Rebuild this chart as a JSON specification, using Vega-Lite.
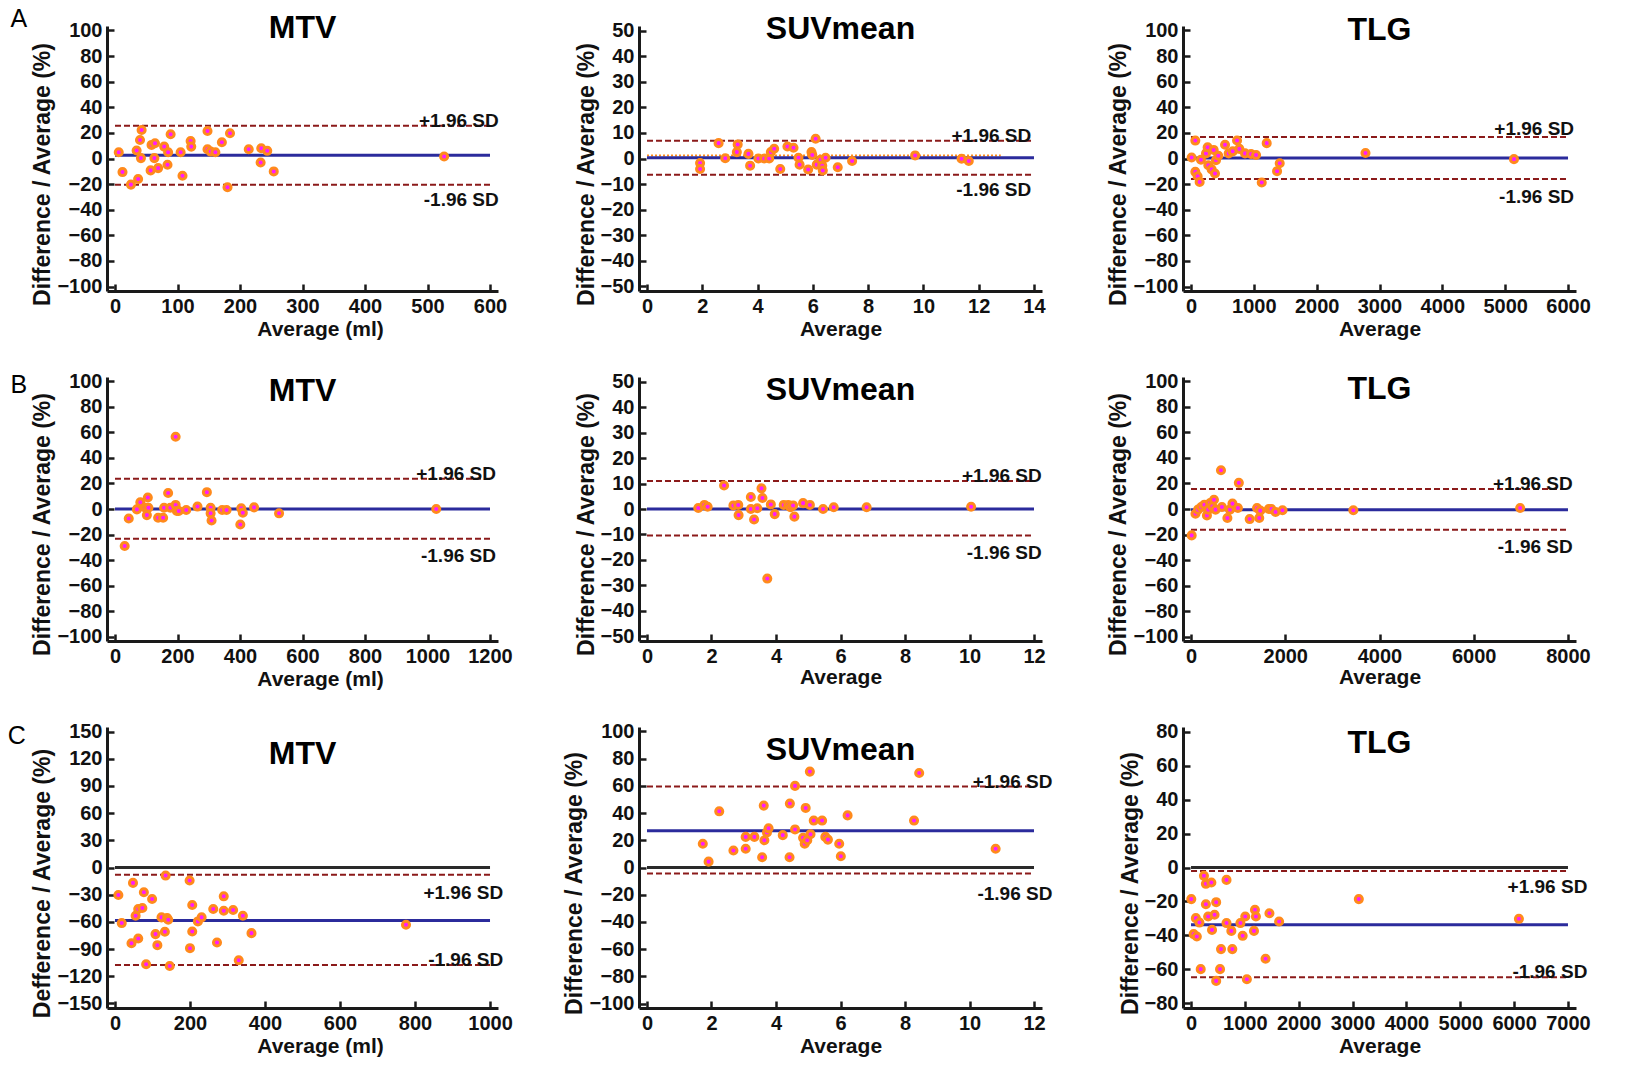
{
"$schema": "https://vega.github.io/schema/vega-lite/v6.json",
"background": "white",
"padding": {"left": 7, "top": 7, "right": 5, "bottom": 5},
"config": {
 "font": "Liberation Sans",
 "numberFormat": "d",
 "view": {"stroke": null},
 "title": {"font": "Liberation Sans", "fontSize": 32, "fontWeight": "bold", "color": "#000000", "anchor": "middle", "frame": "group", "baseline": "alphabetic"},
 "axis": {"grid": false, "domainColor": "#1a1a1a", "domainWidth": 3, "tickColor": "#1a1a1a", "tickWidth": 2.5, "tickSize": -7, "labelPadding": 12, "labelFont": "Liberation Sans", "labelFontSize": 20, "labelFontWeight": "bold", "labelColor": "#111111", "titleFont": "Liberation Sans", "titleFontSize": 21, "titleFontWeight": "bold", "titleColor": "#111111", "labelOverlap": false, "labelFlush": false},
 "axisY": {"titlePadding": 2, "titleFontSize": 23},
 "axisX": {"titlePadding": 2}
},
"datasets": {
 "lines": [
  {"p":"A1","kind":"sd","x":0,"x2":600,"y":25.5},{"p":"A1","kind":"sd","x":0,"x2":600,"y":-20.5},{"p":"A1","kind":"mean","x":0,"x2":600,"y":2.5},
  {"p":"A2","kind":"sd","x":0,"x2":14,"y":6.9},{"p":"A2","kind":"sd","x":0,"x2":14,"y":-6.3},{"p":"A2","kind":"mean","x":0,"x2":14,"y":0.3},{"p":"A2","kind":"fit","x":0,"x2":12.8,"y":1.2},
  {"p":"A3","kind":"sd","x":0,"x2":6000,"y":16.8},{"p":"A3","kind":"sd","x":0,"x2":6000,"y":-16},{"p":"A3","kind":"mean","x":0,"x2":6000,"y":0.3},
  {"p":"B1","kind":"sd","x":0,"x2":1200,"y":23.8},{"p":"B1","kind":"sd","x":0,"x2":1200,"y":-23.3},{"p":"B1","kind":"mean","x":0,"x2":1200,"y":0},
  {"p":"B2","kind":"sd","x":0,"x2":12,"y":11},{"p":"B2","kind":"sd","x":0,"x2":12,"y":-10.4},{"p":"B2","kind":"mean","x":0,"x2":12,"y":0},
  {"p":"B3","kind":"sd","x":0,"x2":8000,"y":15.7},{"p":"B3","kind":"sd","x":0,"x2":8000,"y":-16.3},{"p":"B3","kind":"mean","x":0,"x2":8000,"y":-0.5},
  {"p":"C1","kind":"zero","x":0,"x2":1000,"y":0},{"p":"C1","kind":"sd","x":0,"x2":1000,"y":-8},{"p":"C1","kind":"sd","x":0,"x2":1000,"y":-107.5},{"p":"C1","kind":"mean","x":0,"x2":1000,"y":-58.5},
  {"p":"C2","kind":"zero","x":0,"x2":12,"y":0},{"p":"C2","kind":"sd","x":0,"x2":12,"y":59.5},{"p":"C2","kind":"sd","x":0,"x2":12,"y":-4.5},{"p":"C2","kind":"mean","x":0,"x2":12,"y":27},
  {"p":"C3","kind":"zero","x":0,"x2":7000,"y":0},{"p":"C3","kind":"sd","x":0,"x2":7000,"y":-2},{"p":"C3","kind":"sd","x":0,"x2":7000,"y":-64.5},{"p":"C3","kind":"mean","x":0,"x2":7000,"y":-33.7}
 ],
 "labels": [
  {"p":"A1","text":"+1.96 SD","x":614,"y":25.5,"pos":"above"},{"p":"A1","text":"-1.96 SD","x":614,"y":-20.5,"pos":"below"},
  {"p":"A2","text":"+1.96 SD","x":13.9,"y":6.9,"pos":"above"},{"p":"A2","text":"-1.96 SD","x":13.9,"y":-6.3,"pos":"below"},
  {"p":"A3","text":"+1.96 SD","x":6096,"y":16.8,"pos":"above"},{"p":"A3","text":"-1.96 SD","x":6096,"y":-16,"pos":"below"},
  {"p":"B1","text":"+1.96 SD","x":1219,"y":23.8,"pos":"above"},{"p":"B1","text":"-1.96 SD","x":1219,"y":-23.3,"pos":"below"},
  {"p":"B2","text":"+1.96 SD","x":12.24,"y":11,"pos":"above"},{"p":"B2","text":"-1.96 SD","x":12.24,"y":-10.4,"pos":"below"},
  {"p":"B3","text":"+1.96 SD","x":8101,"y":15.7,"pos":"above"},{"p":"B3","text":"-1.96 SD","x":8101,"y":-16.3,"pos":"below"},
  {"p":"C1","text":"+1.96 SD","x":1035,"y":-8,"pos":"below"},{"p":"C1","text":"-1.96 SD","x":1035,"y":-107.5,"pos":"above"},
  {"p":"C2","text":"+1.96 SD","x":12.57,"y":59.5,"pos":"above"},{"p":"C2","text":"-1.96 SD","x":12.57,"y":-4.5,"pos":"below"},
  {"p":"C3","text":"+1.96 SD","x":7360,"y":-2,"pos":"below"},{"p":"C3","text":"-1.96 SD","x":7360,"y":-64.5,"pos":"above"}
 ],
 "pts": [
  {"p":"A1","x":6,"y":4.9},{"p":"A1","x":12,"y":-10.6},{"p":"A1","x":25.5,"y":-20.4},{"p":"A1","x":34.6,"y":6.2},{"p":"A1","x":37,"y":-16},{"p":"A1","x":40,"y":14.5},{"p":"A1","x":42.6,"y":22.3},{"p":"A1","x":41.5,"y":0.3},{"p":"A1","x":58.5,"y":10.6},{"p":"A1","x":64,"y":11.9},{"p":"A1","x":63,"y":0.3},{"p":"A1","x":57,"y":-9.3},{"p":"A1","x":69,"y":-7.5},{"p":"A1","x":78.7,"y":9.3},{"p":"A1","x":85,"y":4.9},{"p":"A1","x":84,"y":-4.9},{"p":"A1","x":89,"y":18.9},{"p":"A1","x":105,"y":4.9},{"p":"A1","x":108,"y":-13.5},{"p":"A1","x":121,"y":13.7},{"p":"A1","x":122,"y":9.3},{"p":"A1","x":148,"y":21.5},{"p":"A1","x":148,"y":7.2},{"p":"A1","x":153,"y":5.4},{"p":"A1","x":160.6,"y":4.9},{"p":"A1","x":171,"y":12.7},{"p":"A1","x":180,"y":-22.5},{"p":"A1","x":184,"y":19.7},{"p":"A1","x":214,"y":7.2},{"p":"A1","x":234,"y":8.0},{"p":"A1","x":233,"y":-3.1},{"p":"A1","x":243.6,"y":6.0},{"p":"A1","x":254,"y":-10.1},{"p":"A1","x":526.6,"y":1.6},
  {"p":"A2","x":1.92,"y":-1.8},{"p":"A2","x":1.92,"y":-4.1},{"p":"A2","x":2.59,"y":6.0},{"p":"A2","x":2.83,"y":0.1},{"p":"A2","x":3.28,"y":5.5},{"p":"A2","x":3.25,"y":2.5},{"p":"A2","x":3.67,"y":1.8},{"p":"A2","x":3.73,"y":-2.8},{"p":"A2","x":4.03,"y":0},{"p":"A2","x":4.24,"y":0},{"p":"A2","x":4.42,"y":0},{"p":"A2","x":4.48,"y":2.5},{"p":"A2","x":4.6,"y":3.8},{"p":"A2","x":4.82,"y":-4.1},{"p":"A2","x":5.08,"y":4.7},{"p":"A2","x":5.3,"y":4.2},{"p":"A2","x":5.48,"y":0.3},{"p":"A2","x":5.52,"y":-2.4},{"p":"A2","x":5.83,"y":-4.3},{"p":"A2","x":5.95,"y":2.5},{"p":"A2","x":5.98,"y":1.4},{"p":"A2","x":6.1,"y":7.7},{"p":"A2","x":6.14,"y":-2.4},{"p":"A2","x":6.28,"y":-0.5},{"p":"A2","x":6.34,"y":-2.8},{"p":"A2","x":6.36,"y":-4.7},{"p":"A2","x":6.46,"y":0.3},{"p":"A2","x":6.9,"y":-3.4},{"p":"A2","x":7.42,"y":-1.0},{"p":"A2","x":9.7,"y":1.2},{"p":"A2","x":11.38,"y":-0.1},{"p":"A2","x":11.64,"y":-1.0},
  {"p":"A3","x":10,"y":0.8},{"p":"A3","x":69,"y":14},{"p":"A3","x":69,"y":-10.4},{"p":"A3","x":106,"y":-13.9},{"p":"A3","x":138,"y":-18.4},{"p":"A3","x":159,"y":-1},{"p":"A3","x":239,"y":4},{"p":"A3","x":265,"y":8.8},{"p":"A3","x":276,"y":-5.3},{"p":"A3","x":329,"y":-8.5},{"p":"A3","x":361,"y":6.7},{"p":"A3","x":382,"y":-11.7},{"p":"A3","x":398,"y":-1.3},{"p":"A3","x":435,"y":2.1},{"p":"A3","x":542,"y":10.7},{"p":"A3","x":600,"y":4},{"p":"A3","x":664,"y":5.6},{"p":"A3","x":733,"y":14.1},{"p":"A3","x":770,"y":7.5},{"p":"A3","x":860,"y":4},{"p":"A3","x":956,"y":3.5},{"p":"A3","x":1036,"y":2.7},{"p":"A3","x":1126,"y":-18.7},{"p":"A3","x":1205,"y":12},{"p":"A3","x":1370,"y":-9.9},{"p":"A3","x":1412,"y":-3.7},{"p":"A3","x":2777,"y":4.3},{"p":"A3","x":5140,"y":-0.5},
  {"p":"B1","x":31,"y":-29},{"p":"B1","x":44,"y":-7.4},{"p":"B1","x":70,"y":-0.3},{"p":"B1","x":81,"y":5.3},{"p":"B1","x":97,"y":1},{"p":"B1","x":105,"y":9},{"p":"B1","x":107,"y":1},{"p":"B1","x":102,"y":-4.8},{"p":"B1","x":138,"y":-6.9},{"p":"B1","x":154,"y":-6.9},{"p":"B1","x":157,"y":1},{"p":"B1","x":170,"y":12.5},{"p":"B1","x":177,"y":1},{"p":"B1","x":194,"y":56.7},{"p":"B1","x":194,"y":3.2},{"p":"B1","x":198,"y":-1.6},{"p":"B1","x":204,"y":-1.6},{"p":"B1","x":228,"y":-0.8},{"p":"B1","x":264,"y":1.9},{"p":"B1","x":294,"y":13.2},{"p":"B1","x":306,"y":1},{"p":"B1","x":306,"y":-3.4},{"p":"B1","x":309,"y":-9},{"p":"B1","x":343,"y":-0.8},{"p":"B1","x":357,"y":-0.8},{"p":"B1","x":401,"y":-12.2},{"p":"B1","x":404,"y":0.5},{"p":"B1","x":409,"y":-2.9},{"p":"B1","x":445,"y":1.3},{"p":"B1","x":525,"y":-3.4},{"p":"B1","x":1028,"y":0},
  {"p":"B2","x":1.59,"y":0.4},{"p":"B2","x":1.78,"y":1.6},{"p":"B2","x":1.88,"y":0.9},{"p":"B2","x":2.39,"y":9.2},{"p":"B2","x":2.68,"y":1.4},{"p":"B2","x":2.83,"y":1.6},{"p":"B2","x":2.84,"y":-2.4},{"p":"B2","x":3.22,"y":4.7},{"p":"B2","x":3.22,"y":0},{"p":"B2","x":3.32,"y":-4.1},{"p":"B2","x":3.42,"y":0.3},{"p":"B2","x":3.55,"y":8.1},{"p":"B2","x":3.58,"y":4.3},{"p":"B2","x":3.73,"y":-27.3},{"p":"B2","x":3.84,"y":1.8},{"p":"B2","x":3.96,"y":-2},{"p":"B2","x":4.24,"y":1.6},{"p":"B2","x":4.38,"y":1.6},{"p":"B2","x":4.45,"y":0.7},{"p":"B2","x":4.53,"y":1.4},{"p":"B2","x":4.57,"y":-3},{"p":"B2","x":4.84,"y":2.3},{"p":"B2","x":5.05,"y":1.6},{"p":"B2","x":5.46,"y":0},{"p":"B2","x":5.79,"y":0.7},{"p":"B2","x":6.81,"y":0.7},{"p":"B2","x":10.05,"y":0.9},
  {"p":"B3","x":14,"y":-20.7},{"p":"B3","x":95,"y":-3.7},{"p":"B3","x":149,"y":-0.5},{"p":"B3","x":217,"y":1.6},{"p":"B3","x":284,"y":3.4},{"p":"B3","x":338,"y":-5},{"p":"B3","x":365,"y":-0.5},{"p":"B3","x":406,"y":4.7},{"p":"B3","x":453,"y":2.1},{"p":"B3","x":487,"y":7.3},{"p":"B3","x":521,"y":-0.5},{"p":"B3","x":636,"y":30.4},{"p":"B3","x":656,"y":1.6},{"p":"B3","x":772,"y":-7.1},{"p":"B3","x":826,"y":-0.5},{"p":"B3","x":880,"y":4.2},{"p":"B3","x":995,"y":0.8},{"p":"B3","x":1015,"y":20.5},{"p":"B3","x":1245,"y":-7.9},{"p":"B3","x":1401,"y":0.8},{"p":"B3","x":1448,"y":-7.1},{"p":"B3","x":1469,"y":-1.3},{"p":"B3","x":1651,"y":0},{"p":"B3","x":1706,"y":0},{"p":"B3","x":1794,"y":-2.4},{"p":"B3","x":1942,"y":-1},{"p":"B3","x":3445,"y":-1},{"p":"B3","x":6985,"y":0.8},
  {"p":"C1","x":9,"y":-30.3},{"p":"C1","x":18,"y":-61.3},{"p":"C1","x":48,"y":-17},{"p":"C1","x":44,"y":-83.5},{"p":"C1","x":55,"y":-53.2},{"p":"C1","x":62,"y":-45.8},{"p":"C1","x":73,"y":-44.7},{"p":"C1","x":62,"y":-78.3},{"p":"C1","x":77,"y":-27.3},{"p":"C1","x":83,"y":-106.8},{"p":"C1","x":99,"y":-34.7},{"p":"C1","x":108,"y":-73.5},{"p":"C1","x":113,"y":-85.7},{"p":"C1","x":124,"y":-55},{"p":"C1","x":133,"y":-70.9},{"p":"C1","x":135,"y":-8.9},{"p":"C1","x":139,"y":-55.8},{"p":"C1","x":142,"y":-57.6},{"p":"C1","x":146,"y":-108.6},{"p":"C1","x":199,"y":-14.4},{"p":"C1","x":200,"y":-89},{"p":"C1","x":206,"y":-41.4},{"p":"C1","x":206,"y":-70.6},{"p":"C1","x":221,"y":-59.5},{"p":"C1","x":231,"y":-55},{"p":"C1","x":262,"y":-45.8},{"p":"C1","x":272,"y":-82.7},{"p":"C1","x":290,"y":-31.8},{"p":"C1","x":290,"y":-47.7},{"p":"C1","x":315,"y":-46.9},{"p":"C1","x":330,"y":-102.3},{"p":"C1","x":341,"y":-53.2},{"p":"C1","x":364,"y":-72.4},{"p":"C1","x":776,"y":-63.2},
  {"p":"C2","x":1.73,"y":17.5},{"p":"C2","x":1.91,"y":4.3},{"p":"C2","x":2.24,"y":41.3},{"p":"C2","x":2.68,"y":12.5},{"p":"C2","x":3.06,"y":22.5},{"p":"C2","x":3.06,"y":13.8},{"p":"C2","x":3.33,"y":22.5},{"p":"C2","x":3.57,"y":7.5},{"p":"C2","x":3.62,"y":45.5},{"p":"C2","x":3.64,"y":20},{"p":"C2","x":3.72,"y":25.8},{"p":"C2","x":3.77,"y":28.8},{"p":"C2","x":4.21,"y":23.8},{"p":"C2","x":4.42,"y":7.5},{"p":"C2","x":4.43,"y":47},{"p":"C2","x":4.59,"y":60},{"p":"C2","x":4.59,"y":28},{"p":"C2","x":4.84,"y":21.8},{"p":"C2","x":4.89,"y":17.5},{"p":"C2","x":4.92,"y":43.8},{"p":"C2","x":4.97,"y":20},{"p":"C2","x":5.05,"y":70.5},{"p":"C2","x":5.07,"y":24.5},{"p":"C2","x":5.17,"y":34.5},{"p":"C2","x":5.43,"y":34.5},{"p":"C2","x":5.53,"y":22.5},{"p":"C2","x":5.61,"y":20.5},{"p":"C2","x":5.96,"y":17.5},{"p":"C2","x":6.01,"y":8.3},{"p":"C2","x":6.22,"y":38.3},{"p":"C2","x":8.28,"y":34.5},{"p":"C2","x":8.44,"y":69.5},{"p":"C2","x":10.81,"y":13.8},
  {"p":"C3","x":5,"y":-18.6},{"p":"C3","x":48,"y":-39.2},{"p":"C3","x":108,"y":-40.6},{"p":"C3","x":90,"y":-29.8},{"p":"C3","x":156,"y":-32.4},{"p":"C3","x":180,"y":-59.8},{"p":"C3","x":240,"y":-4.9},{"p":"C3","x":276,"y":-9.6},{"p":"C3","x":276,"y":-21.6},{"p":"C3","x":318,"y":-28.8},{"p":"C3","x":378,"y":-8.8},{"p":"C3","x":390,"y":-36.7},{"p":"C3","x":437,"y":-27.8},{"p":"C3","x":467,"y":-20.4},{"p":"C3","x":467,"y":-66.7},{"p":"C3","x":539,"y":-59.8},{"p":"C3","x":557,"y":-48},{"p":"C3","x":659,"y":-7.3},{"p":"C3","x":659,"y":-32.7},{"p":"C3","x":749,"y":-37.3},{"p":"C3","x":767,"y":-48},{"p":"C3","x":917,"y":-32.7},{"p":"C3","x":959,"y":-40.2},{"p":"C3","x":1007,"y":-28.8},{"p":"C3","x":1037,"y":-65.7},{"p":"C3","x":1169,"y":-37.3},{"p":"C3","x":1187,"y":-24.9},{"p":"C3","x":1205,"y":-28.8},{"p":"C3","x":1384,"y":-53.7},{"p":"C3","x":1456,"y":-26.9},{"p":"C3","x":1636,"y":-31.8},{"p":"C3","x":3116,"y":-18.6},{"p":"C3","x":6089,"y":-30.2}
 ]
},
"spacing": 32,
"vconcat": [
 {"title": {"text": "A", "orient": "left", "anchor": "end", "angle": 0, "align": "right", "baseline": "top", "fontSize": 25, "fontWeight": "normal", "offset": -12, "dy": -19, "frame": "group"},
  "bounds": "flush", "spacing": 141,
  "hconcat": [
   {"width": 391, "height": 265, "title": {"text": "MTV", "offset": -25},
    "encoding": {"x": {"field": "x", "type": "quantitative", "scale": {"domain": [-12.8, 612.8], "nice": false, "zero": false}, "axis": {"values": [0,100,200,300,400,500,600], "title": "Average (ml)", "titleX": 213}},
                 "y": {"field": "y", "type": "quantitative", "scale": {"domain": [-103.5, 103.5], "nice": false, "zero": false}, "axis": {"values": [-100,-80,-60,-40,-20,0,20,40,60,80,100], "title": "Difference / Average (%)", "titleY": 148}}},
    "layer": [
     {"data": {"name": "lines"}, "transform": [{"filter": "datum.p == 'A1' && datum.kind == 'sd'"}], "mark": {"type": "rule", "color": "#8b1a1a", "strokeWidth": 2, "strokeDash": [6, 3]}, "encoding": {"x2": {"field": "x2"}}},
     {"data": {"name": "lines"}, "transform": [{"filter": "datum.p == 'A1' && datum.kind == 'mean'"}], "mark": {"type": "rule", "color": "#2b2b9c", "strokeWidth": 3}, "encoding": {"x2": {"field": "x2"}}},
     {"data": {"name": "pts"}, "transform": [{"filter": "datum.p == 'A1'"}], "mark": {"type": "point", "shape": "circle", "filled": true, "fill": "#ff1aff", "stroke": "#ff8a1c", "strokeWidth": 3, "size": 50, "opacity": 1}},
     {"data": {"name": "labels"}, "transform": [{"filter": "datum.p == 'A1' && datum.pos == 'above'"}], "mark": {"type": "text", "align": "right", "baseline": "alphabetic", "dy": 1, "fontSize": 19, "fontWeight": "bold", "color": "#111111"}, "encoding": {"text": {"field": "text"}}},
     {"data": {"name": "labels"}, "transform": [{"filter": "datum.p == 'A1' && datum.pos == 'below'"}], "mark": {"type": "text", "align": "right", "baseline": "top", "dy": 6, "fontSize": 19, "fontWeight": "bold", "color": "#111111"}, "encoding": {"text": {"field": "text"}}}
    ]},
   {"width": 403, "height": 265, "title": {"text": "SUVmean", "offset": -25},
    "encoding": {"x": {"field": "x", "type": "quantitative", "scale": {"domain": [-0.29, 14.29], "nice": false, "zero": false}, "axis": {"values": [0,2,4,6,8,10,12,14], "title": "Average"}},
                 "y": {"field": "y", "type": "quantitative", "scale": {"domain": [-51.76, 51.76], "nice": false, "zero": false}, "axis": {"values": [-50,-40,-30,-20,-10,0,10,20,30,40,50], "title": "Difference / Average (%)", "titleY": 148}}},
    "layer": [
     {"data": {"name": "lines"}, "transform": [{"filter": "datum.p == 'A2' && datum.kind == 'sd'"}], "mark": {"type": "rule", "color": "#8b1a1a", "strokeWidth": 2, "strokeDash": [6, 3]}, "encoding": {"x2": {"field": "x2"}}},
     {"data": {"name": "lines"}, "transform": [{"filter": "datum.p == 'A2' && datum.kind == 'fit'"}], "mark": {"type": "rule", "color": "#ff8c1a", "strokeWidth": 2, "strokeDash": [2, 2]}, "encoding": {"x2": {"field": "x2"}}},
     {"data": {"name": "lines"}, "transform": [{"filter": "datum.p == 'A2' && datum.kind == 'mean'"}], "mark": {"type": "rule", "color": "#2b2b9c", "strokeWidth": 3}, "encoding": {"x2": {"field": "x2"}}},
     {"data": {"name": "pts"}, "transform": [{"filter": "datum.p == 'A2'"}], "mark": {"type": "point", "shape": "circle", "filled": true, "fill": "#ff1aff", "stroke": "#ff8a1c", "strokeWidth": 3, "size": 50, "opacity": 1}},
     {"data": {"name": "labels"}, "transform": [{"filter": "datum.p == 'A2' && datum.pos == 'above'"}], "mark": {"type": "text", "align": "right", "baseline": "alphabetic", "dy": 1, "fontSize": 19, "fontWeight": "bold", "color": "#111111"}, "encoding": {"text": {"field": "text"}}},
     {"data": {"name": "labels"}, "transform": [{"filter": "datum.p == 'A2' && datum.pos == 'below'"}], "mark": {"type": "text", "align": "right", "baseline": "top", "dy": 6, "fontSize": 19, "fontWeight": "bold", "color": "#111111"}, "encoding": {"text": {"field": "text"}}}
    ]},
   {"width": 393, "height": 265, "title": {"text": "TLG", "offset": -27},
    "encoding": {"x": {"field": "x", "type": "quantitative", "scale": {"domain": [-127, 6127], "nice": false, "zero": false}, "axis": {"values": [0,1000,2000,3000,4000,5000,6000], "title": "Average"}},
                 "y": {"field": "y", "type": "quantitative", "scale": {"domain": [-103.5, 103.5], "nice": false, "zero": false}, "axis": {"values": [-100,-80,-60,-40,-20,0,20,40,60,80,100], "title": "Difference / Average (%)", "titleY": 148}}},
    "layer": [
     {"data": {"name": "lines"}, "transform": [{"filter": "datum.p == 'A3' && datum.kind == 'sd'"}], "mark": {"type": "rule", "color": "#8b1a1a", "strokeWidth": 2, "strokeDash": [6, 3]}, "encoding": {"x2": {"field": "x2"}}},
     {"data": {"name": "lines"}, "transform": [{"filter": "datum.p == 'A3' && datum.kind == 'mean'"}], "mark": {"type": "rule", "color": "#2b2b9c", "strokeWidth": 3}, "encoding": {"x2": {"field": "x2"}}},
     {"data": {"name": "pts"}, "transform": [{"filter": "datum.p == 'A3'"}], "mark": {"type": "point", "shape": "circle", "filled": true, "fill": "#ff1aff", "stroke": "#ff8a1c", "strokeWidth": 3, "size": 50, "opacity": 1}},
     {"data": {"name": "labels"}, "transform": [{"filter": "datum.p == 'A3' && datum.pos == 'above'"}], "mark": {"type": "text", "align": "right", "baseline": "alphabetic", "dy": -2, "fontSize": 19, "fontWeight": "bold", "color": "#111111"}, "encoding": {"text": {"field": "text"}}},
     {"data": {"name": "labels"}, "transform": [{"filter": "datum.p == 'A3' && datum.pos == 'below'"}], "mark": {"type": "text", "align": "right", "baseline": "top", "dy": 9, "fontSize": 19, "fontWeight": "bold", "color": "#111111"}, "encoding": {"text": {"field": "text"}}}
    ]}
  ]},
 {"title": {"text": "B", "orient": "left", "anchor": "end", "angle": 0, "align": "right", "baseline": "top", "fontSize": 25, "fontWeight": "normal", "offset": -12, "dy": -4, "frame": "group"},
  "bounds": "flush", "spacing": 141,
  "hconcat": [
   {"width": 391, "height": 264, "title": {"text": "MTV", "offset": -37},
    "encoding": {"x": {"field": "x", "type": "quantitative", "scale": {"domain": [-25.6, 1225.6], "nice": false, "zero": false}, "axis": {"values": [0,200,400,600,800,1000,1200], "title": "Average (ml)", "titleX": 213}},
                 "y": {"field": "y", "type": "quantitative", "scale": {"domain": [-103.5, 103.5], "nice": false, "zero": false}, "axis": {"values": [-100,-80,-60,-40,-20,0,20,40,60,80,100], "title": "Difference / Average (%)", "titleY": 147}}},
    "layer": [
     {"data": {"name": "lines"}, "transform": [{"filter": "datum.p == 'B1' && datum.kind == 'sd'"}], "mark": {"type": "rule", "color": "#8b1a1a", "strokeWidth": 2, "strokeDash": [6, 3]}, "encoding": {"x2": {"field": "x2"}}},
     {"data": {"name": "lines"}, "transform": [{"filter": "datum.p == 'B1' && datum.kind == 'mean'"}], "mark": {"type": "rule", "color": "#2b2b9c", "strokeWidth": 3}, "encoding": {"x2": {"field": "x2"}}},
     {"data": {"name": "pts"}, "transform": [{"filter": "datum.p == 'B1'"}], "mark": {"type": "point", "shape": "circle", "filled": true, "fill": "#ff1aff", "stroke": "#ff8a1c", "strokeWidth": 3, "size": 50, "opacity": 1}},
     {"data": {"name": "labels"}, "transform": [{"filter": "datum.p == 'B1' && datum.pos == 'above'"}], "mark": {"type": "text", "align": "right", "baseline": "alphabetic", "dy": 1, "fontSize": 19, "fontWeight": "bold", "color": "#111111"}, "encoding": {"text": {"field": "text"}}},
     {"data": {"name": "labels"}, "transform": [{"filter": "datum.p == 'B1' && datum.pos == 'below'"}], "mark": {"type": "text", "align": "right", "baseline": "top", "dy": 8, "fontSize": 19, "fontWeight": "bold", "color": "#111111"}, "encoding": {"text": {"field": "text"}}}
    ]},
   {"width": 403, "height": 264, "title": {"text": "SUVmean", "offset": -35},
    "encoding": {"x": {"field": "x", "type": "quantitative", "scale": {"domain": [-0.248, 12.248], "nice": false, "zero": false}, "axis": {"values": [0,2,4,6,8,10,12], "title": "Average", "titlePadding": 0}},
                 "y": {"field": "y", "type": "quantitative", "scale": {"domain": [-51.8, 51.8], "nice": false, "zero": false}, "axis": {"values": [-50,-40,-30,-20,-10,0,10,20,30,40,50], "title": "Difference / Average (%)", "titleY": 147}}},
    "layer": [
     {"data": {"name": "lines"}, "transform": [{"filter": "datum.p == 'B2' && datum.kind == 'sd'"}], "mark": {"type": "rule", "color": "#8b1a1a", "strokeWidth": 2, "strokeDash": [6, 3]}, "encoding": {"x2": {"field": "x2"}}},
     {"data": {"name": "lines"}, "transform": [{"filter": "datum.p == 'B2' && datum.kind == 'mean'"}], "mark": {"type": "rule", "color": "#2b2b9c", "strokeWidth": 3}, "encoding": {"x2": {"field": "x2"}}},
     {"data": {"name": "pts"}, "transform": [{"filter": "datum.p == 'B2'"}], "mark": {"type": "point", "shape": "circle", "filled": true, "fill": "#ff1aff", "stroke": "#ff8a1c", "strokeWidth": 3, "size": 50, "opacity": 1}},
     {"data": {"name": "labels"}, "transform": [{"filter": "datum.p == 'B2' && datum.pos == 'above'"}], "mark": {"type": "text", "align": "right", "baseline": "alphabetic", "dy": 1, "fontSize": 19, "fontWeight": "bold", "color": "#111111"}, "encoding": {"text": {"field": "text"}}},
     {"data": {"name": "labels"}, "transform": [{"filter": "datum.p == 'B2' && datum.pos == 'below'"}], "mark": {"type": "text", "align": "right", "baseline": "top", "dy": 8, "fontSize": 19, "fontWeight": "bold", "color": "#111111"}, "encoding": {"text": {"field": "text"}}}
    ]},
   {"width": 393, "height": 264, "title": {"text": "TLG", "offset": -35},
    "encoding": {"x": {"field": "x", "type": "quantitative", "scale": {"domain": [-170, 8170], "nice": false, "zero": false}, "axis": {"values": [0,2000,4000,6000,8000], "title": "Average", "titlePadding": 0}},
                 "y": {"field": "y", "type": "quantitative", "scale": {"domain": [-103.5, 103.5], "nice": false, "zero": false}, "axis": {"values": [-100,-80,-60,-40,-20,0,20,40,60,80,100], "title": "Difference / Average (%)", "titleY": 147}}},
    "layer": [
     {"data": {"name": "lines"}, "transform": [{"filter": "datum.p == 'B3' && datum.kind == 'sd'"}], "mark": {"type": "rule", "color": "#8b1a1a", "strokeWidth": 2, "strokeDash": [6, 3]}, "encoding": {"x2": {"field": "x2"}}},
     {"data": {"name": "lines"}, "transform": [{"filter": "datum.p == 'B3' && datum.kind == 'mean'"}], "mark": {"type": "rule", "color": "#2b2b9c", "strokeWidth": 3}, "encoding": {"x2": {"field": "x2"}}},
     {"data": {"name": "pts"}, "transform": [{"filter": "datum.p == 'B3'"}], "mark": {"type": "point", "shape": "circle", "filled": true, "fill": "#ff1aff", "stroke": "#ff8a1c", "strokeWidth": 3, "size": 50, "opacity": 1}},
     {"data": {"name": "labels"}, "transform": [{"filter": "datum.p == 'B3' && datum.pos == 'above'"}], "mark": {"type": "text", "align": "right", "baseline": "alphabetic", "dy": 1, "fontSize": 19, "fontWeight": "bold", "color": "#111111"}, "encoding": {"text": {"field": "text"}}},
     {"data": {"name": "labels"}, "transform": [{"filter": "datum.p == 'B3' && datum.pos == 'below'"}], "mark": {"type": "text", "align": "right", "baseline": "top", "dy": 8, "fontSize": 19, "fontWeight": "bold", "color": "#111111"}, "encoding": {"text": {"field": "text"}}}
    ]}
  ]},
 {"title": {"text": "C", "orient": "left", "anchor": "end", "angle": 0, "align": "right", "baseline": "top", "fontSize": 25, "fontWeight": "normal", "offset": -12, "dy": -3, "frame": "group"},
  "bounds": "flush", "spacing": 141,
  "hconcat": [
   {"width": 391, "height": 281, "title": {"text": "MTV", "offset": -49},
    "encoding": {"x": {"field": "x", "type": "quantitative", "scale": {"domain": [-21.3, 1021.3], "nice": false, "zero": false}, "axis": {"values": [0,200,400,600,800,1000], "title": "Average (ml)", "titleX": 213}},
                 "y": {"field": "y", "type": "quantitative", "scale": {"domain": [-155, 155], "nice": false, "zero": false}, "axis": {"values": [-150,-120,-90,-60,-30,0,30,60,90,120,150], "title": "Defference / Average (%)", "titleY": 156}}},
    "layer": [
     {"data": {"name": "lines"}, "transform": [{"filter": "datum.p == 'C1' && datum.kind == 'zero'"}], "mark": {"type": "rule", "color": "#2a2a2a", "strokeWidth": 3}, "encoding": {"x2": {"field": "x2"}}},
     {"data": {"name": "lines"}, "transform": [{"filter": "datum.p == 'C1' && datum.kind == 'sd'"}], "mark": {"type": "rule", "color": "#8b1a1a", "strokeWidth": 2, "strokeDash": [6, 3]}, "encoding": {"x2": {"field": "x2"}}},
     {"data": {"name": "lines"}, "transform": [{"filter": "datum.p == 'C1' && datum.kind == 'mean'"}], "mark": {"type": "rule", "color": "#2b2b9c", "strokeWidth": 3}, "encoding": {"x2": {"field": "x2"}}},
     {"data": {"name": "pts"}, "transform": [{"filter": "datum.p == 'C1'"}], "mark": {"type": "point", "shape": "circle", "filled": true, "fill": "#ff1aff", "stroke": "#ff8a1c", "strokeWidth": 3, "size": 50, "opacity": 1}},
     {"data": {"name": "labels"}, "transform": [{"filter": "datum.p == 'C1' && datum.pos == 'above'"}], "mark": {"type": "text", "align": "right", "baseline": "alphabetic", "dy": 1, "fontSize": 19, "fontWeight": "bold", "color": "#111111"}, "encoding": {"text": {"field": "text"}}},
     {"data": {"name": "labels"}, "transform": [{"filter": "datum.p == 'C1' && datum.pos == 'below'"}], "mark": {"type": "text", "align": "right", "baseline": "top", "dy": 9, "fontSize": 19, "fontWeight": "bold", "color": "#111111"}, "encoding": {"text": {"field": "text"}}}
    ]},
   {"width": 403, "height": 281, "title": {"text": "SUVmean", "offset": -46},
    "encoding": {"x": {"field": "x", "type": "quantitative", "scale": {"domain": [-0.248, 12.248], "nice": false, "zero": false}, "axis": {"values": [0,2,4,6,8,10,12], "title": "Average"}},
                 "y": {"field": "y", "type": "quantitative", "scale": {"domain": [-103.3, 103.3], "nice": false, "zero": false}, "axis": {"values": [-100,-80,-60,-40,-20,0,20,40,60,80,100], "title": "Difference / Average (%)", "titleY": 156}}},
    "layer": [
     {"data": {"name": "lines"}, "transform": [{"filter": "datum.p == 'C2' && datum.kind == 'zero'"}], "mark": {"type": "rule", "color": "#2a2a2a", "strokeWidth": 3}, "encoding": {"x2": {"field": "x2"}}},
     {"data": {"name": "lines"}, "transform": [{"filter": "datum.p == 'C2' && datum.kind == 'sd'"}], "mark": {"type": "rule", "color": "#8b1a1a", "strokeWidth": 2, "strokeDash": [6, 3]}, "encoding": {"x2": {"field": "x2"}}},
     {"data": {"name": "lines"}, "transform": [{"filter": "datum.p == 'C2' && datum.kind == 'mean'"}], "mark": {"type": "rule", "color": "#2b2b9c", "strokeWidth": 3}, "encoding": {"x2": {"field": "x2"}}},
     {"data": {"name": "pts"}, "transform": [{"filter": "datum.p == 'C2'"}], "mark": {"type": "point", "shape": "circle", "filled": true, "fill": "#ff1aff", "stroke": "#ff8a1c", "strokeWidth": 3, "size": 50, "opacity": 1}},
     {"data": {"name": "labels"}, "transform": [{"filter": "datum.p == 'C2' && datum.pos == 'above'"}], "mark": {"type": "text", "align": "right", "baseline": "alphabetic", "dy": 1, "fontSize": 19, "fontWeight": "bold", "color": "#111111"}, "encoding": {"text": {"field": "text"}}},
     {"data": {"name": "labels"}, "transform": [{"filter": "datum.p == 'C2' && datum.pos == 'below'"}], "mark": {"type": "text", "align": "right", "baseline": "top", "dy": 11, "fontSize": 19, "fontWeight": "bold", "color": "#111111"}, "encoding": {"text": {"field": "text"}}}
    ]},
   {"width": 393, "height": 281, "title": {"text": "TLG", "offset": -38},
    "encoding": {"x": {"field": "x", "type": "quantitative", "scale": {"domain": [-149, 7149], "nice": false, "zero": false}, "axis": {"values": [0,1000,2000,3000,4000,5000,6000,7000], "title": "Average"}},
                 "y": {"field": "y", "type": "quantitative", "scale": {"domain": [-82.65, 82.65], "nice": false, "zero": false}, "axis": {"values": [-80,-60,-40,-20,0,20,40,60,80], "title": "Difference / Average (%)", "titleY": 156}}},
    "layer": [
     {"data": {"name": "lines"}, "transform": [{"filter": "datum.p == 'C3' && datum.kind == 'zero'"}], "mark": {"type": "rule", "color": "#2a2a2a", "strokeWidth": 3}, "encoding": {"x2": {"field": "x2"}}},
     {"data": {"name": "lines"}, "transform": [{"filter": "datum.p == 'C3' && datum.kind == 'sd'"}], "mark": {"type": "rule", "color": "#8b1a1a", "strokeWidth": 2, "strokeDash": [6, 3]}, "encoding": {"x2": {"field": "x2"}}},
     {"data": {"name": "lines"}, "transform": [{"filter": "datum.p == 'C3' && datum.kind == 'mean'"}], "mark": {"type": "rule", "color": "#2b2b9c", "strokeWidth": 3}, "encoding": {"x2": {"field": "x2"}}},
     {"data": {"name": "pts"}, "transform": [{"filter": "datum.p == 'C3'"}], "mark": {"type": "point", "shape": "circle", "filled": true, "fill": "#ff1aff", "stroke": "#ff8a1c", "strokeWidth": 3, "size": 50, "opacity": 1}},
     {"data": {"name": "labels"}, "transform": [{"filter": "datum.p == 'C3' && datum.pos == 'above'"}], "mark": {"type": "text", "align": "right", "baseline": "alphabetic", "dy": 1, "fontSize": 19, "fontWeight": "bold", "color": "#111111"}, "encoding": {"text": {"field": "text"}}},
     {"data": {"name": "labels"}, "transform": [{"filter": "datum.p == 'C3' && datum.pos == 'below'"}], "mark": {"type": "text", "align": "right", "baseline": "top", "dy": 7, "fontSize": 19, "fontWeight": "bold", "color": "#111111"}, "encoding": {"text": {"field": "text"}}}
    ]}
  ]}
]
}
